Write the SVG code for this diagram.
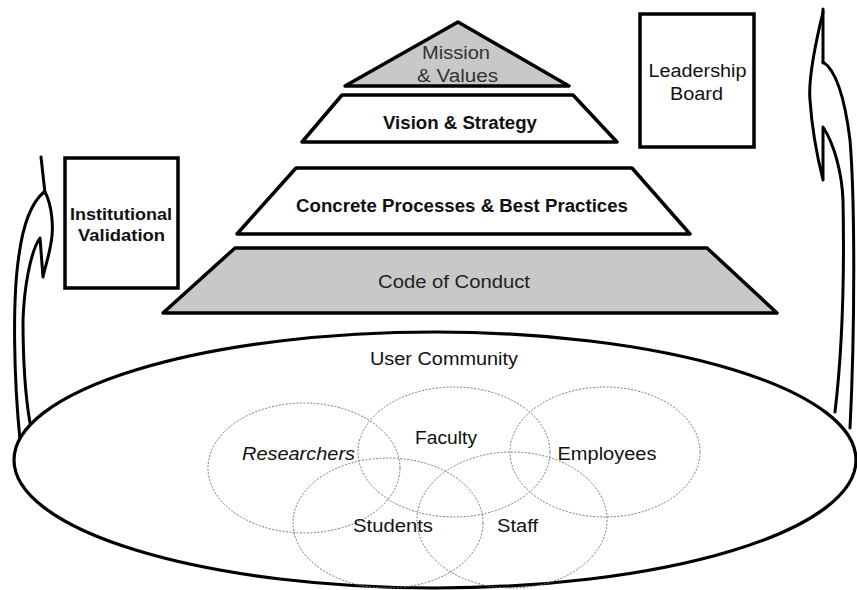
<svg xmlns="http://www.w3.org/2000/svg" width="857" height="590" viewBox="0 0 857 590">
<style>
.t{font-family:"Liberation Sans",Arial,sans-serif;text-anchor:middle;fill:#111}
.b{font-weight:bold}
.lvl{stroke:#000;stroke-width:3.5;stroke-linejoin:round}
.gray{fill:#c8c8c8}
.white{fill:#fff}
.box{fill:#fff;stroke:#000;stroke-width:3.5}
.grp{fill:none;stroke:#777;stroke-width:1;stroke-dasharray:2 1.5}
.arr{fill:none;stroke:#000;stroke-width:3;stroke-linecap:round;stroke-linejoin:round}
</style>
<rect width="857" height="590" fill="#fff"/>
<g id="connectors">
  <g id="arrow-left">
    <path class="arr" d="M20,440 C14,380 12,300 19,255 C23,225 31,203 44,192"/>
    <path class="arr" d="M41,157 L45,193" stroke-width="5"/>
    <path class="arr" d="M45,192 C52,205 54,228 51,243 C49,256 45,267 43,277 L40,238 C30,252 24,290 23,320 C23,360 26,400 30,423"/>
  </g>
  <g id="arrow-right">
    <path class="arr" d="M823,9 L823,63" stroke-width="4.5"/>
    <path class="arr" d="M823,62 C836,70 845,100 850,140 C855,200 855,330 850,428"/>
    <path class="arr" d="M823,12 C815,45 808,78 810,100 C812,130 818,160 823,180 L823,127 C835,145 842,175 843,200 C845,300 840,370 835,412"/>
  </g>
</g>
<g id="user-community">
  <ellipse cx="435" cy="460" rx="421" ry="128" fill="#fff" stroke="#000" stroke-width="3.2"/>
  <text class="t" x="444" y="365" font-size="18" textLength="148" lengthAdjust="spacingAndGlyphs">User Community</text>
</g>
<g id="researchers">
  <ellipse class="grp" cx="304" cy="468" rx="96" ry="65"/>
  <text class="t" x="298.5" y="460" font-size="17.5" font-style="italic" textLength="113" lengthAdjust="spacingAndGlyphs">Researchers</text>
</g>
<g id="faculty">
  <ellipse class="grp" cx="454" cy="452" rx="96" ry="65"/>
  <text class="t" x="446" y="444" font-size="17.5" textLength="62" lengthAdjust="spacingAndGlyphs">Faculty</text>
</g>
<g id="employees">
  <ellipse class="grp" cx="605" cy="452" rx="95" ry="65"/>
  <text class="t" x="607" y="460" font-size="17.5" textLength="99" lengthAdjust="spacingAndGlyphs">Employees</text>
</g>
<g id="students">
  <ellipse class="grp" cx="388" cy="523" rx="95" ry="65"/>
  <text class="t" x="393" y="532" font-size="17.5" textLength="80" lengthAdjust="spacingAndGlyphs">Students</text>
</g>
<g id="staff">
  <ellipse class="grp" cx="512" cy="520" rx="95" ry="68"/>
  <text class="t" x="517.5" y="532" font-size="17.5" textLength="41" lengthAdjust="spacingAndGlyphs">Staff</text>
</g>
<g id="mission-values">
  <polygon class="lvl gray" points="458,22 569,86 345,86"/>
  <text class="t" x="456" y="59" font-size="18" textLength="68" lengthAdjust="spacingAndGlyphs" style="fill:#333">Mission</text>
  <text class="t" x="457.5" y="82" font-size="18" textLength="81" lengthAdjust="spacingAndGlyphs" style="fill:#333">&amp; Values</text>
</g>
<g id="vision-strategy">
  <polygon class="lvl white" points="342,95 573,95 617,142 302,142"/>
  <text class="t b" x="460" y="129" font-size="17.5" textLength="154" lengthAdjust="spacingAndGlyphs">Vision &amp; Strategy</text>
</g>
<g id="concrete-processes">
  <polygon class="lvl white" points="296,168 632,168 690,234 237,234"/>
  <text class="t b" x="462" y="212" font-size="17.5" textLength="332" lengthAdjust="spacingAndGlyphs">Concrete Processes &amp; Best Practices</text>
</g>
<g id="code-of-conduct">
  <polygon class="lvl gray" points="235,248 707,248 777,313 163,313"/>
  <text class="t" x="454" y="288" font-size="18" textLength="152" lengthAdjust="spacingAndGlyphs" style="fill:#222">Code of Conduct</text>
</g>
<g id="institutional-validation">
  <rect class="box" x="65" y="158" width="113" height="130"/>
  <text class="t b" x="121" y="220" font-size="17" textLength="102" lengthAdjust="spacingAndGlyphs">Institutional</text>
  <text class="t b" x="121.5" y="241" font-size="17" textLength="87" lengthAdjust="spacingAndGlyphs">Validation</text>
</g>
<g id="leadership-board">
  <rect class="box" x="640" y="14" width="114" height="133"/>
  <text class="t" x="697.5" y="77" font-size="18" textLength="98" lengthAdjust="spacingAndGlyphs">Leadership</text>
  <text class="t" x="696.5" y="100" font-size="18" textLength="53" lengthAdjust="spacingAndGlyphs">Board</text>
</g>
</svg>
